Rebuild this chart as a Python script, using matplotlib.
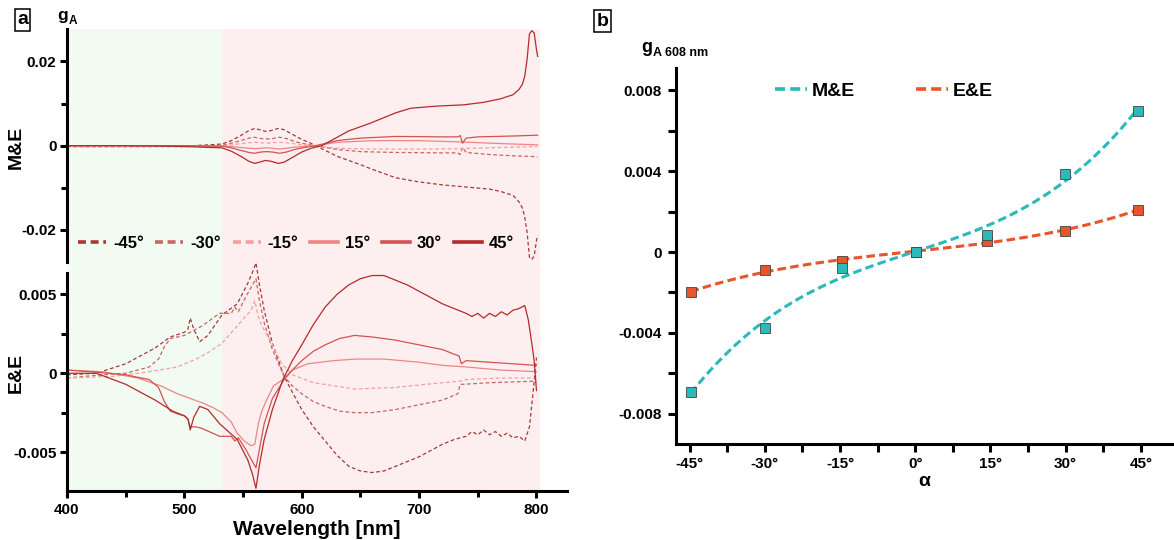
import numpy as np
import matplotlib
matplotlib.use('Agg')
import matplotlib.pyplot as plt
from matplotlib import font_manager
from matplotlib.lines import Line2D
from matplotlib.patches import Rectangle
from matplotlib.transforms import blended_transform_factory

# ---------------- data ----------------
angle_labels = ['-45°', '-30°', '-15°', '15°', '30°', '45°']

# Panel a, top (M&E)
wl_me_m45 = [400, 450, 500, 520, 532, 540, 548, 555, 560, 564, 569, 574, 580, 585, 592, 600, 606, 612, 630, 650,
             660, 680, 700, 720, 740, 760, 770, 780, 785, 788, 790, 792, 794, 796, 798, 800, 801]
me_m45 = [-0.0002, -0.0002, -0.0001, 0.0002, 0.0004, 0.0012, 0.0024, 0.0036, 0.0041, 0.0038, 0.0034, 0.0036, 0.0041,
          0.0038, 0.0027, 0.0015, 0.0008, 0.0000, -0.0025, -0.0045, -0.0056, -0.0076, -0.0086, -0.0093, -0.0098,
          -0.0103, -0.0109, -0.0118, -0.0133, -0.0148, -0.0169, -0.0205, -0.0265, -0.0270, -0.0262, -0.0225,
          -0.0213]
wl_me_m30 = [400, 500, 532, 540, 548, 555, 560, 565, 570, 575, 581, 587, 595, 605, 612, 630, 650, 680, 720, 733,
             735, 737, 740, 760, 780, 801]
me_m30 = [-0.0002, -0.0002, 0.0001, 0.0006, 0.0012, 0.0018, 0.0020, 0.0017, 0.0016, 0.0017, 0.0020, 0.0017, 0.0009,
          0.0003, 0.0000, -0.0009, -0.0014, -0.0016, -0.0017, -0.0017, -0.0021, -0.0004, -0.0016, -0.0021,
          -0.0024, -0.0026]
wl_me_m15 = [400, 500, 532, 540, 548, 555, 560, 565, 570, 575, 581, 587, 595, 605, 612, 630, 660, 700, 735, 770,
             801]
me_m15 = [-0.0002, -0.0002, 0.0000, 0.0002, 0.0005, 0.0007, 0.0008, 0.0007, 0.0006, 0.0007, 0.0008, 0.0007, 0.0004,
          0.0001, 0.0000, -0.0006, -0.0008, -0.0008, -0.0007, -0.0004, -0.0002]
wl_me_p15 = [400, 500, 532, 540, 548, 555, 560, 565, 570, 575, 581, 587, 595, 605, 612, 630, 660, 700, 735, 770,
             801]
me_p15 = [0.0000, 0.0000, -0.0001, -0.0002, -0.0004, -0.0006, -0.0007, -0.0006, -0.0005, -0.0006, -0.0008, -0.0006,
          -0.0003, -0.0001, 0.0000, 0.0008, 0.0012, 0.0012, 0.0009, 0.0005, 0.0002]
wl_me_p30 = [400, 500, 532, 540, 548, 555, 560, 565, 570, 575, 581, 587, 595, 605, 612, 630, 650, 680, 720, 733,
             735, 737, 740, 750, 780, 801]
me_p30 = [0.0000, 0.0000, -0.0001, -0.0005, -0.0011, -0.0016, -0.0018, -0.0015, -0.0014, -0.0015, -0.0018, -0.0015,
          -0.0008, -0.0003, 0.0000, 0.0012, 0.0018, 0.0022, 0.0021, 0.0021, 0.0024, 0.0006, 0.0018, 0.0021,
          0.0023, 0.0025]
wl_me_p45 = [400, 450, 480, 500, 520, 532, 540, 548, 555, 560, 564, 569, 574, 580, 585, 592, 600, 608, 617, 640,
             658, 680, 693, 715, 738, 755, 769, 780, 785, 788, 790, 792, 794, 796, 798, 800, 801]
me_p45 = [0.0000, 0.0000, -0.0001, -0.0002, -0.0004, -0.0005, -0.0013, -0.0025, -0.0037, -0.0042, -0.0039, -0.0035,
          -0.0037, -0.0042, -0.0039, -0.0028, -0.0015, -0.0006, 0.0000, 0.0035, 0.0053, 0.0078, 0.0089, 0.0094,
          0.0097, 0.0103, 0.0111, 0.0121, 0.0133, 0.0146, 0.0165, 0.0205, 0.0265, 0.0273, 0.0268, 0.0228, 0.0212]

# Panel a, bottom (E&E)
wl_ee_m45 = [400, 425, 450, 475, 488, 500, 503, 505, 508, 513, 520, 532, 545, 554, 558, 561, 564, 568, 575, 585,
             592, 600, 610, 620, 630, 640, 650, 660, 670, 680, 690, 700, 720, 730, 740, 745, 750, 755, 760, 765,
             770, 775, 780, 785, 790, 794, 797, 800]
ee_m45 = [-0.0001, 0.0000, 0.0006, 0.0016, 0.0023, 0.0026, 0.0028, 0.0035, 0.0028, 0.0020, 0.0024, 0.0037, 0.0044,
          0.0057, 0.0064, 0.0070, 0.0056, 0.0040, 0.0019, -0.0002, -0.0012, -0.0023, -0.0034, -0.0043, -0.0052,
          -0.0059, -0.0062, -0.0063, -0.0062, -0.0059, -0.0056, -0.0053, -0.0045, -0.0042, -0.0040, -0.0037,
          -0.0039, -0.0036, -0.0039, -0.0037, -0.0040, -0.0038, -0.0041, -0.0040, -0.0043, -0.0034, -0.0013,
          0.0010]
wl_ee_m30 = [400, 430, 450, 470, 478, 483, 488, 500, 515, 530, 540, 543, 546, 552, 558, 561, 564, 568, 575, 585,
             592, 600, 610, 620, 632, 645, 660, 680, 700, 720, 733, 735, 738, 760, 800]
ee_m30 = [-0.0003, -0.0001, 0.0000, 0.0004, 0.0009, 0.0017, 0.0022, 0.0024, 0.0030, 0.0038, 0.0038, 0.0042, 0.0039,
          0.0048, 0.0056, 0.0060, 0.0046, 0.0032, 0.0015, -0.0002, -0.0008, -0.0013, -0.0018, -0.0021, -0.0024,
          -0.0025, -0.0025, -0.0023, -0.0020, -0.0017, -0.0013, -0.0007, -0.0007, -0.0006, -0.0005]
wl_ee_m15 = [400, 440, 470, 494, 510, 520, 532, 545, 552, 557, 560, 563, 566, 573, 583, 592, 610, 645, 680, 720,
             735, 740, 770, 800]
ee_m15 = [-0.0003, -0.0002, 0.0001, 0.0004, 0.0009, 0.0013, 0.0019, 0.0030, 0.0036, 0.0040, 0.0046, 0.0036, 0.0030,
          0.0021, 0.0006, -0.0001, -0.0006, -0.0010, -0.0009, -0.0006, -0.0005, -0.0004, -0.0003, -0.0003]
wl_ee_p15 = [400, 430, 460, 480, 494, 505, 516, 525, 532, 540, 545, 551, 557, 560, 563, 566, 570, 576, 584, 592,
             605, 627, 646, 670, 700, 720, 740, 770, 800]
ee_p15 = [0.0002, 0.0001, -0.0003, -0.0008, -0.0013, -0.0016, -0.0019, -0.0022, -0.0025, -0.0031, -0.0038, -0.0043,
          -0.0046, -0.0045, -0.0032, -0.0024, -0.0017, -0.0008, -0.0004, 0.0002, 0.0006, 0.0008, 0.0009, 0.0009,
          0.0007, 0.0005, 0.0004, 0.0002, 0.0001]
wl_ee_p30 = [400, 420, 450, 470, 478, 483, 488, 495, 500, 503, 505, 510, 515, 530, 540, 543, 546, 552, 558, 561,
             564, 568, 575, 585, 592, 600, 610, 620, 632, 645, 660, 680, 700, 720, 730, 734, 736, 740, 760, 780, 800]
ee_p30 = [0.0002, 0.0001, -0.0001, -0.0004, -0.0009, -0.0018, -0.0024, -0.0026, -0.0027, -0.0029, -0.0034,
          -0.0034, -0.0035, -0.0040, -0.0040, -0.0043, -0.0041, -0.0048, -0.0056, -0.0060, -0.0048, -0.0032,
          -0.0016, -0.0004, 0.0002, 0.0008, 0.0014, 0.0018, 0.0022, 0.0024, 0.0023, 0.0021, 0.0018, 0.0015,
          0.0012, 0.0011, 0.0006, 0.0008, 0.0007, 0.0006, 0.0005]
wl_ee_p45 = [400, 425, 450, 475, 490, 500, 503, 505, 508, 513, 520, 530, 545, 554, 558, 561, 564, 568, 575, 584,
             592, 600, 610, 620, 630, 640, 650, 660, 670, 680, 690, 700, 720, 730, 740, 745, 750, 755, 760, 765,
             770, 775, 780, 785, 790, 793, 796, 798, 800]
ee_p45 = [0.0000, 0.0000, -0.0007, -0.0017, -0.0024, -0.0027, -0.0029, -0.0036, -0.0028, -0.0021, -0.0023, -0.0032,
          -0.0042, -0.0055, -0.0064, -0.0073, -0.0058, -0.0042, -0.0023, -0.0004, 0.0008, 0.0018, 0.0031, 0.0042,
          0.0050, 0.0056, 0.0060, 0.0062, 0.0062, 0.0059, 0.0056, 0.0052, 0.0044, 0.0041, 0.0038, 0.0036, 0.0038,
          0.0035, 0.0038, 0.0036, 0.0039, 0.0037, 0.0040, 0.0041, 0.0043, 0.0034, 0.0019, 0.0008, -0.0011]

# Panel b
alpha_pts = [-44.8, -30.0, -14.6, 0.1, 14.3, 29.8, 44.4]
g_me = [-0.00692, -0.00375, -0.00079, 0.0, 0.00084, 0.00387, 0.00700]
g_ee = [-0.00199, -0.00091, -0.00045, 0.0, 0.00055, 0.00104, 0.00209]
alpha_ticks = [-45, -30, -15, 0, 15, 30, 45]
alpha_ticklabels = ['-45°', '-30°', '-15°', '0°', '15°', '30°', '45°']

# ---------------- style ----------------
names = {f.name for f in font_manager.fontManager.ttflist}
FONT = 'Liberation Sans' if 'Liberation Sans' in names else 'DejaVu Sans'
plt.rcParams['font.family'] = [FONT, 'DejaVu Sans']
plt.rcParams['font.weight'] = 'bold'
plt.rcParams['axes.linewidth'] = 2.2

C_M45, C_M30, C_M15 = '#a93838', '#c96565', '#f3a0a0'
C_P15, C_P30, C_P45 = '#f08484', '#d45252', '#b52a2a'
GREEN, PINK = '#f1fbf1', '#fdefef'
TEAL, ORANGE = '#2bb9b9', '#e9552b'

W, H = 1174, 540
def box(l, t, r, b):
    return [l / W, 1 - b / H, (r - l) / W, (b - t) / H]

fig = plt.figure(figsize=(W / 100, H / 100), dpi=100)
ax1 = fig.add_axes(box(67, 29, 567, 262))
ax2 = fig.add_axes(box(67, 273, 567, 491))
ax3 = fig.add_axes(box(676, 67.5, 1172, 444))

for ax in (ax1, ax2):
    ax.set_facecolor('none')
    ax.set_xlim(400, 826)
    for s in ('top', 'right'):
        ax.spines[s].set_visible(False)
ax1.spines['bottom'].set_visible(False)

# background spectral regions spanning both panels
trans = blended_transform_factory(ax2.transData, fig.transFigure)
fig.add_artist(Rectangle((400, 1 - 491 / H), 132, (491 - 29) / H, transform=trans,
                         fc=GREEN, ec='none', zorder=-1))
fig.add_artist(Rectangle((532, 1 - 491 / H), 271, (491 - 29) / H, transform=trans,
                         fc=PINK, ec='none', zorder=-1))

dash = (0, (3, 2))
top_series = [(wl_me_m45, me_m45, C_M45, dash), (wl_me_m30, me_m30, C_M30, dash),
              (wl_me_m15, me_m15, C_M15, dash), (wl_me_p15, me_p15, C_P15, '-'),
              (wl_me_p30, me_p30, C_P30, '-'), (wl_me_p45, me_p45, C_P45, '-')]
bot_series = [(wl_ee_m45, ee_m45, C_M45, dash), (wl_ee_m30, ee_m30, C_M30, dash),
              (wl_ee_m15, ee_m15, C_M15, dash), (wl_ee_p15, ee_p15, C_P15, '-'),
              (wl_ee_p30, ee_p30, C_P30, '-'), (wl_ee_p45, ee_p45, C_P45, '-')]
for x, y, c, ls in top_series:
    ax1.plot(x, y, color=c, ls=ls, lw=0.9)
for x, y, c, ls in bot_series:
    ax2.plot(x, y, color=c, ls=ls, lw=0.9, clip_on=False)

ax1.set_ylim(-0.0276, 0.0277)
ax1.set_yticks([-0.02, 0, 0.02])
ax1.set_yticklabels(['-0.02', '0', '0.02'])
ax1.set_yticks([-0.01, 0.01], minor=True)
ax1.set_xticks([])

ax2.set_ylim(-0.00747, 0.00636)
ax2.set_yticks([-0.005, 0, 0.005])
ax2.set_yticklabels(['-0.005', '0', '0.005'])
ax2.set_yticks([-0.0025, 0.0025], minor=True)
ax2.set_xticks([400, 500, 600, 700, 800])
ax2.set_xticks([450, 550, 650, 750], minor=True)

for ax in (ax1, ax2):
    ax.tick_params(which='major', length=5, width=2.2, labelsize=11, pad=2.5)
    ax.tick_params(which='minor', length=4, width=2.2)
ax2.tick_params(axis='x', which='major', pad=4)

ax1.set_ylabel('M&E', fontsize=14, fontweight='bold')
ax1.yaxis.set_label_coords(-0.084, 0.494)
ax2.set_ylabel('E&E', fontsize=14, fontweight='bold')
ax2.yaxis.set_label_coords(-0.084, 0.54)
ax2.set_xlabel('Wavelength [nm]', fontsize=15, fontweight='bold', labelpad=2)

handles = []
for c, ls in zip([C_M45, C_M30, C_M15, C_P15, C_P30, C_P45], [dash] * 3 + ['-'] * 3):
    lstyle = (0, (2.2, 1.3)) if ls != '-' else '-'
    handles.append(Line2D([], [], color=c, ls=lstyle, lw=2.6))
ax1.legend(handles, angle_labels, ncol=6, loc='center left', bbox_to_anchor=(0.022, 0.0815),
           frameon=False, handlelength=1.68, handletextpad=0.42, columnspacing=0.7,
           borderpad=0, borderaxespad=0, prop={'weight': 'bold', 'size': 12})

# ---------------- panel b ----------------
for s in ('top', 'right'):
    ax3.spines[s].set_visible(False)
ax3.set_xlim(-47.7, 51.2)
ax3.set_ylim(-0.0095, 0.00913)
ax3.set_xticks(alpha_ticks)
ax3.set_xticklabels(alpha_ticklabels)
ax3.set_xticks([-37.5, -22.5, -7.5, 7.5, 22.5, 37.5], minor=True)
ax3.set_yticks([-0.008, -0.004, 0, 0.004, 0.008])
ax3.set_yticklabels(['-0.008', '-0.004', '0', '0.004', '0.008'])
ax3.set_yticks([-0.006, -0.002, 0.002, 0.006], minor=True)
ax3.tick_params(which='both', length=5.5, width=2.2, labelsize=11)
ax3.tick_params(axis='y', which='major', pad=5)
ax3.tick_params(axis='x', which='major', pad=4)

fit_ls = (0, (2.8, 1.4))
xs_fit = np.linspace(alpha_pts[0], alpha_pts[-1], 200)
ax3.plot(xs_fit, np.polyval(np.polyfit(alpha_pts, g_ee, 3), xs_fit), color=ORANGE, lw=2.2, ls=fit_ls)
ax3.plot(xs_fit, np.polyval(np.polyfit(alpha_pts, g_me, 3), xs_fit), color=TEAL, lw=2.2, ls=fit_ls)
ax3.plot(alpha_pts, g_ee, ls='none', marker='s', ms=6.5, mfc=ORANGE, mec='#444444', mew=0.6, zorder=3)
ax3.plot(alpha_pts, g_me, ls='none', marker='s', ms=6.5, mfc=TEAL, mec='#444444', mew=0.6, zorder=4)

ax3.set_xlabel('α', fontsize=14, fontweight='bold', labelpad=1)

h2 = [Line2D([], [], color=TEAL, lw=2.6, ls=fit_ls), Line2D([], [], color=ORANGE, lw=2.6, ls=fit_ls)]
ax3.legend(h2, ['M&E', 'E&E'], ncol=2, loc='center left', bbox_to_anchor=(0.2, 0.9376), frameon=False,
           handlelength=1.65, handletextpad=0.25, columnspacing=3.1, borderpad=0, borderaxespad=0,
           prop={'weight': 'bold', 'size': 14})

# ---------------- annotations ----------------
bb = dict(boxstyle='square,pad=0.12', fc='white', ec='black', lw=1.1)
fig.text(22.5 / W, 1 - 20 / H, 'a', fontsize=14, fontweight='bold', ha='center', va='center', bbox=bb)
fig.text(602.5 / W, 1 - 21 / H, 'b', fontsize=14, fontweight='bold', ha='center', va='center', bbox=bb)

fig.text(57 / W, 1 - 20 / H, 'g', fontsize=12.5, fontweight='bold', ha='left', va='baseline')
fig.text(68.5 / W, 1 - 23.5 / H, 'A', fontsize=8.5, fontweight='bold', ha='left', va='baseline')
fig.text(641 / W, 1 - 51.5 / H, 'g', fontsize=13, fontweight='bold', ha='left', va='baseline')
fig.text(653 / W, 1 - 56.5 / H, 'A 608 nm', fontsize=9, fontweight='bold', ha='left', va='baseline')

fig.savefig('out.png', dpi=100)
